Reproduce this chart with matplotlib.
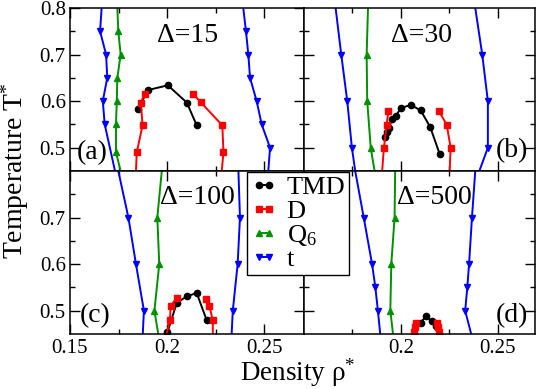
import numpy as np
import matplotlib
matplotlib.use("Agg")
import matplotlib.pyplot as plt
from matplotlib.lines import Line2D

plt.rcParams['font.family'] = ['Liberation Serif', 'DejaVu Serif']
plt.rcParams['mathtext.fontset'] = 'custom'
plt.rcParams['mathtext.rm'] = 'Liberation Serif'
plt.rcParams['mathtext.it'] = 'Liberation Serif:italic'

nan = np.nan

# panel (a), Delta = 15
a_tmd_rho = [0.1849, 0.1904, 0.2004, 0.2102, 0.2153]
a_tmd_T = [0.584, 0.624, 0.634, 0.597, 0.548]
a_d_rho = [0.1840, 0.1844, 0.1874, 0.1865, 0.1884, nan, 0.2134, 0.2173, 0.2285, 0.2291, 0.2282]
a_d_T = [0.45, 0.49, 0.548, 0.597, 0.615, nan, 0.616, 0.598, 0.548, 0.49, 0.45]
a_q6_rho = [0.1744, 0.1749, 0.1761, 0.1744, 0.1741, 0.1737, 0.1737, 0.1761]
a_q6_T = [0.80, 0.75, 0.70, 0.65, 0.60, 0.55, 0.49, 0.45]
a_t_rho = [0.1663, 0.1655, 0.1686, 0.1692, 0.1669, 0.1679, 0.1732, nan,
           0.2393, 0.2407, 0.2419, 0.2428, 0.2462, 0.2488, 0.2531, 0.2522]
a_t_T = [0.80, 0.75, 0.70, 0.65, 0.60, 0.55, 0.45, nan,
         0.80, 0.75, 0.70, 0.65, 0.60, 0.55, 0.50, 0.45]

# panel (b), Delta = 30
b_tmd_rho = [0.1918, 0.1929, 0.1940, 0.1952, 0.1974, 0.2000, 0.2050, 0.2102, 0.2151, 0.2199]
b_tmd_T = [0.522, 0.534, 0.542, 0.562, 0.569, 0.585, 0.592, 0.580, 0.544, 0.487]
b_d_rho = [0.1903, 0.1912, 0.1926, 0.1935, nan, 0.2197, 0.2236, 0.2256, 0.2251]
b_d_T = [0.45, 0.50, 0.549, 0.578, nan, 0.578, 0.549, 0.50, 0.45]
b_q6_rho = [0.1830, 0.1823, 0.1826, 0.1844, 0.1864]
b_q6_T = [0.80, 0.70, 0.60, 0.50, 0.45]
b_t_rho = [0.1663, 0.1692, 0.1723, 0.1747, 0.1764, nan, 0.2383, 0.2419, 0.2448, 0.2448, 0.2404]
b_t_T = [0.80, 0.70, 0.60, 0.50, 0.45, nan, 0.80, 0.70, 0.60, 0.50, 0.45]

# panel (c), Delta = 100
c_tmd_rho = [0.2002, 0.2050, 0.2102, 0.2153, 0.2205]
c_tmd_T = [0.4535, 0.5165, 0.531, 0.538, 0.479]
c_d_rho = [0.1998, 0.2015, 0.2019, 0.2050, nan, 0.2201, 0.2218, 0.2236, 0.2236]
c_d_T = [0.45, 0.479, 0.511, 0.527, nan, 0.525, 0.511, 0.479, 0.45]
c_q6_rho = [0.1973, 0.1950, 0.1960, 0.1935, 0.1955]
c_q6_T = [0.80, 0.70, 0.60, 0.50, 0.45]
c_t_rho = [0.1749, 0.1801, 0.1840, 0.1881, 0.1875, nan, 0.2368, 0.2376, 0.2364, 0.2339, 0.2333]
c_t_T = [0.80, 0.70, 0.60, 0.50, 0.45, nan, 0.80, 0.70, 0.60, 0.50, 0.45]

# panel (d), Delta = 500
d_tmd_rho = [0.2060, 0.2101, 0.2129, 0.2158, 0.2180, 0.2192]
d_tmd_T = [0.45, 0.474, 0.488, 0.477, 0.468, 0.45]
d_d_rho = [0.2065, 0.2070, 0.2075, nan, 0.2185, 0.2192, 0.2198]
d_d_T = [0.455, 0.465, 0.474, nan, 0.474, 0.465, 0.455]
d_q6_rho = [0.1970, 0.1967, 0.1950, 0.1945, 0.1959]
d_q6_T = [0.80, 0.70, 0.60, 0.50, 0.45]
d_t_rho = [0.1764, 0.1808, 0.1851, 0.1868, 0.1881, 0.1893, nan,
           0.2383, 0.2366, 0.2351, 0.2342, 0.2331, 0.2362]
d_t_T = [0.80, 0.70, 0.60, 0.55, 0.50, 0.45, nan,
         0.80, 0.70, 0.60, 0.55, 0.50, 0.45]

panel_names = ['(a)', '(b)', '(c)', '(d)']
deltas = ['Δ=15', 'Δ=30', 'Δ=100', 'Δ=500']
labels = ['TMD', 'D', 'Q$_6$', 't']
colors = ['black', '#ff0000', '#009000', '#0000ff']
markers = ['o', 's', '^', 'v']

W, H = 538, 389


def fx(px):
    return px / W


def fy(py):
    return 1 - py / H


fig = plt.figure(figsize=(W / 100, H / 100), dpi=100)

# axes boxes in pixels: left, top, right, bottom
boxes = [(70, 8, 304, 171), (304, 8, 535, 171), (70, 171, 304, 334), (304, 171, 535, 334)]
xmax = [0.2706, 0.2691, 0.2706, 0.2691]

data = [
    [(a_tmd_rho, a_tmd_T), (a_d_rho, a_d_T), (a_q6_rho, a_q6_T), (a_t_rho, a_t_T)],
    [(b_tmd_rho, b_tmd_T), (b_d_rho, b_d_T), (b_q6_rho, b_q6_T), (b_t_rho, b_t_T)],
    [(c_tmd_rho, c_tmd_T), (c_d_rho, c_d_T), (c_q6_rho, c_q6_T), (c_t_rho, c_t_T)],
    [(d_tmd_rho, d_tmd_T), (d_d_rho, d_d_T), (d_q6_rho, d_q6_T), (d_t_rho, d_t_T)],
]

for i, (l, t, r, b) in enumerate(boxes):
    ax = fig.add_axes([fx(l), fy(b), fx(r) - fx(l), fy(t) - fy(b)])
    for j, (rho, T) in enumerate(data[i]):
        T_arr = np.array(T, dtype=float)
        # markers only on points inside the window (edge points just carry the line)
        mark = [bool(v > 0.451 and v < 0.799) for v in T_arr]
        ax.plot(rho, T, color=colors[j], marker=markers[j], markersize=4.5,
                linewidth=1.4, markevery=mark)
    ax.set_xlim(0.15, xmax[i])
    ax.set_ylim(0.45, 0.8)
    ax.tick_params(which='both', direction='in', top=True, right=True, width=1, labelsize=15)
    ax.tick_params(which='major', length=7)
    ax.tick_params(which='minor', length=3.5)
    ax.tick_params(axis='x', pad=3.5)
    ax.tick_params(axis='y', pad=3)
    for s in ax.spines.values():
        s.set_linewidth(1.1)

    if i % 2 == 0:
        ax.set_xticks([0.15, 0.2, 0.25])
        ax.set_xticklabels(['0.15', '0.2', '0.25'])
    else:
        ax.set_xticks([0.2, 0.25])
        ax.set_xticklabels(['0.2', '0.25'])
    ax.set_xticks([0.175, 0.225], minor=True)
    if i == 0:
        ax.set_yticks([0.5, 0.6, 0.7, 0.8])
        ax.set_yticklabels(['0.5', '0.6', '0.7', '0.8'])
    else:
        ax.set_yticks([0.5, 0.6, 0.7])
        ax.set_yticklabels(['0.5', '0.6', '0.7'])
    ax.set_yticks([0.55, 0.65, 0.75], minor=True)
    if i < 2:
        ax.tick_params(labelbottom=False)
    if i % 2 == 1:
        ax.tick_params(labelleft=False)

# panel tags and Delta values
delta_pos = [(188, 36), (421, 36), (197, 198), (434, 197)]
tag_pos = [(92, 153), (512, 151), (95, 316), (512, 316)]
for i in range(4):
    fig.text(fx(delta_pos[i][0]), fy(delta_pos[i][1]), deltas[i], fontsize=20,
             ha='center', va='center')
    fig.text(fx(tag_pos[i][0]), fy(tag_pos[i][1]), panel_names[i], fontsize=20,
             ha='center', va='center')

fig.text(fx(15), fy(171), 'Temperature T$^{*}$', fontsize=20, rotation=90,
         ha='center', va='center')
fig.text(fx(298), fy(381), 'Density ρ$^{*}$', fontsize=19.5, ha='center', va='baseline')

handles = [Line2D([], [], color=colors[j], marker=markers[j], markersize=4.5, linewidth=1.4)
           for j in range(4)]
leg = fig.legend(handles, labels, loc='upper left', bbox_to_anchor=(fx(247), fy(172)),
                 fontsize=19, frameon=True, fancybox=False, framealpha=1,
                 edgecolor='black', numpoints=2, handlelength=1.0, handletextpad=0.35,
                 borderpad=0.15, labelspacing=0.0, borderaxespad=0)
leg.get_frame().set_linewidth(1.0)

fig.savefig('out.png', dpi=100)
